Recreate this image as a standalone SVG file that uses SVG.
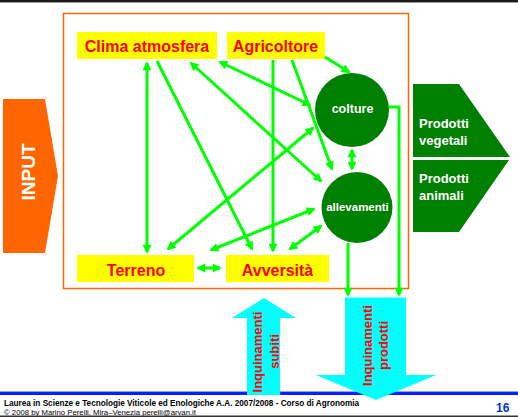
<svg xmlns="http://www.w3.org/2000/svg" width="518" height="417" viewBox="0 0 518 417">
<style>
.box{fill:#ffff00}
.bt{font-family:"Liberation Sans",Arial,sans-serif;font-weight:bold;font-size:16px;fill:#ff0000;text-anchor:middle}
.circ{fill:#008000}
.ct{font-family:"Liberation Sans",Arial,sans-serif;font-weight:bold;fill:#ffffff;text-anchor:middle}
.pt{font-family:"Liberation Sans",Arial,sans-serif;font-weight:bold;font-size:13px;fill:#ffffff}
.it{font-family:"Liberation Sans",Arial,sans-serif;font-weight:bold;font-size:13px;fill:#ff0000;text-anchor:middle}
.cn{stroke:#00ff00;stroke-width:3;fill:none}
.one{marker-end:url(#ah)}
.two{marker-start:url(#ah);marker-end:url(#ah)}
.ft{font-family:"Liberation Sans",Arial,sans-serif;fill:#000000}
</style>
<defs>
<marker id="ah" viewBox="0 0 10 10" refX="8" refY="5" markerWidth="10" markerHeight="9" markerUnits="userSpaceOnUse" orient="auto-start-reverse">
<path d="M0,0 L10,5 L0,10 z" fill="#00ff00"/>
</marker>
</defs>
<rect x="0" y="0" width="518" height="417" fill="#ffffff"/>
<rect x="0" y="0" width="518" height="2" fill="#1a1a1a"/>
<rect x="0" y="2" width="518" height="1" fill="#9a9a9a"/>

<rect id="frame" x="63.5" y="13.5" width="345" height="275" fill="none" stroke="#ff6600" stroke-width="1.5"/>

<g id="input">
<polygon points="3,99 45,99 58,176 45,253 3,253" fill="#ff6600"/>
<text transform="translate(34.5,172) rotate(-90)" font-family="Liberation Sans,Arial,sans-serif" font-weight="bold" font-size="19" fill="#ffffff" text-anchor="middle">INPUT</text>
</g>

<g id="clima">
<rect class="box" x="77" y="32" width="140" height="27"/>
<text class="bt" x="147" y="52">Clima atmosfera</text>
</g>
<g id="agricoltore">
<rect class="box" x="227" y="32" width="98" height="27"/>
<text class="bt" x="275.5" y="52">Agricoltore</text>
</g>
<g id="terreno">
<rect class="box" x="77" y="255" width="117" height="27"/>
<text class="bt" x="136" y="275.5">Terreno</text>
</g>
<g id="avversita">
<rect class="box" x="226" y="255" width="103" height="27"/>
<text class="bt" x="277.5" y="275.5">Avversità</text>
</g>
<g id="colture">
<circle class="circ" cx="352" cy="110" r="37"/>
<text class="ct" x="352.5" y="113" font-size="12.5">colture</text>
</g>
<g id="allevamenti">
<circle class="circ" cx="357" cy="207.5" r="35.5"/>
<text class="ct" x="357.5" y="210.5" font-size="11.5">allevamenti</text>
</g>

<g id="prodotti-vegetali">
<polygon points="413,84 459,84 510,157 413,157" fill="#008000"/>
<text class="pt" x="419" y="127.5">Prodotti</text>
<text class="pt" x="419" y="144.5">vegetali</text>
</g>
<g id="prodotti-animali">
<polygon points="413,160 509,160 459,232 413,232" fill="#008000"/>
<text class="pt" x="419" y="183">Prodotti</text>
<text class="pt" x="419" y="199.5">animali</text>
</g>

<rect x="0" y="391" width="518" height="1" fill="#8fa0ff"/>
<rect x="0" y="392" width="518" height="3" fill="#0022ff"/>

<g id="inquinamenti-subiti">
<polygon points="264,298 296,318 280,318 280,395 247,395 247,318 232,318" fill="#00ffff"/>
<text class="it" transform="translate(261.5,352) rotate(-90)">Inquinamenti</text>
<text class="it" transform="translate(278.5,351.5) rotate(-90)">subiti</text>
</g>
<g id="inquinamenti-prodotti">
<polygon points="345,297.5 406,297.5 406,375 436,375 376,400 316,375 345,375" fill="#00ffff"/>
<text class="it" transform="translate(371.5,345.5) rotate(-90)">Inquinamenti</text>
<text class="it" transform="translate(388,345.5) rotate(-90)">prodotti</text>
</g>

<g id="connectors">
<line class="cn two" x1="147" y1="63" x2="147" y2="252"/>
<line class="cn one" x1="157" y1="61" x2="252" y2="249"/>
<line class="cn two" x1="191" y1="63" x2="321" y2="181"/>
<line class="cn two" x1="220" y1="62" x2="310" y2="105"/>
<line class="cn one" x1="273" y1="60" x2="273" y2="251"/>
<line class="cn one" x1="292" y1="60" x2="332" y2="169"/>
<line class="cn one" x1="325" y1="57" x2="349" y2="72"/>
<line class="cn two" x1="352" y1="150" x2="352" y2="169"/>
<line class="cn two" x1="168" y1="249" x2="313" y2="128"/>
<line class="cn two" x1="211" y1="250" x2="314" y2="209"/>
<line class="cn two" x1="290" y1="249" x2="321" y2="226"/>
<line class="cn two" x1="198" y1="268" x2="220" y2="268"/>
<line class="cn one" x1="348" y1="243" x2="348" y2="295"/>
<polyline class="cn one" points="389,107 399,107 399,295"/>
</g>

<text class="ft" x="4" y="406" font-size="8.3" font-weight="bold" textLength="355" lengthAdjust="spacingAndGlyphs">Laurea in Scienze e Tecnologie Viticole ed Enologiche A.A. 2007/2008 - Corso di Agronomia</text>
<text class="ft" x="4" y="414.5" font-size="8" textLength="192" lengthAdjust="spacingAndGlyphs">© 2008 by Marino Perelli, Mira–Venezia perelli@arvan.it</text>
<text x="496" y="411.5" font-family="Liberation Sans,Arial,sans-serif" font-weight="bold" font-size="12" fill="#0033cc">16</text>
<rect x="0" y="415.5" width="518" height="1.5" fill="#333333"/>
</svg>
